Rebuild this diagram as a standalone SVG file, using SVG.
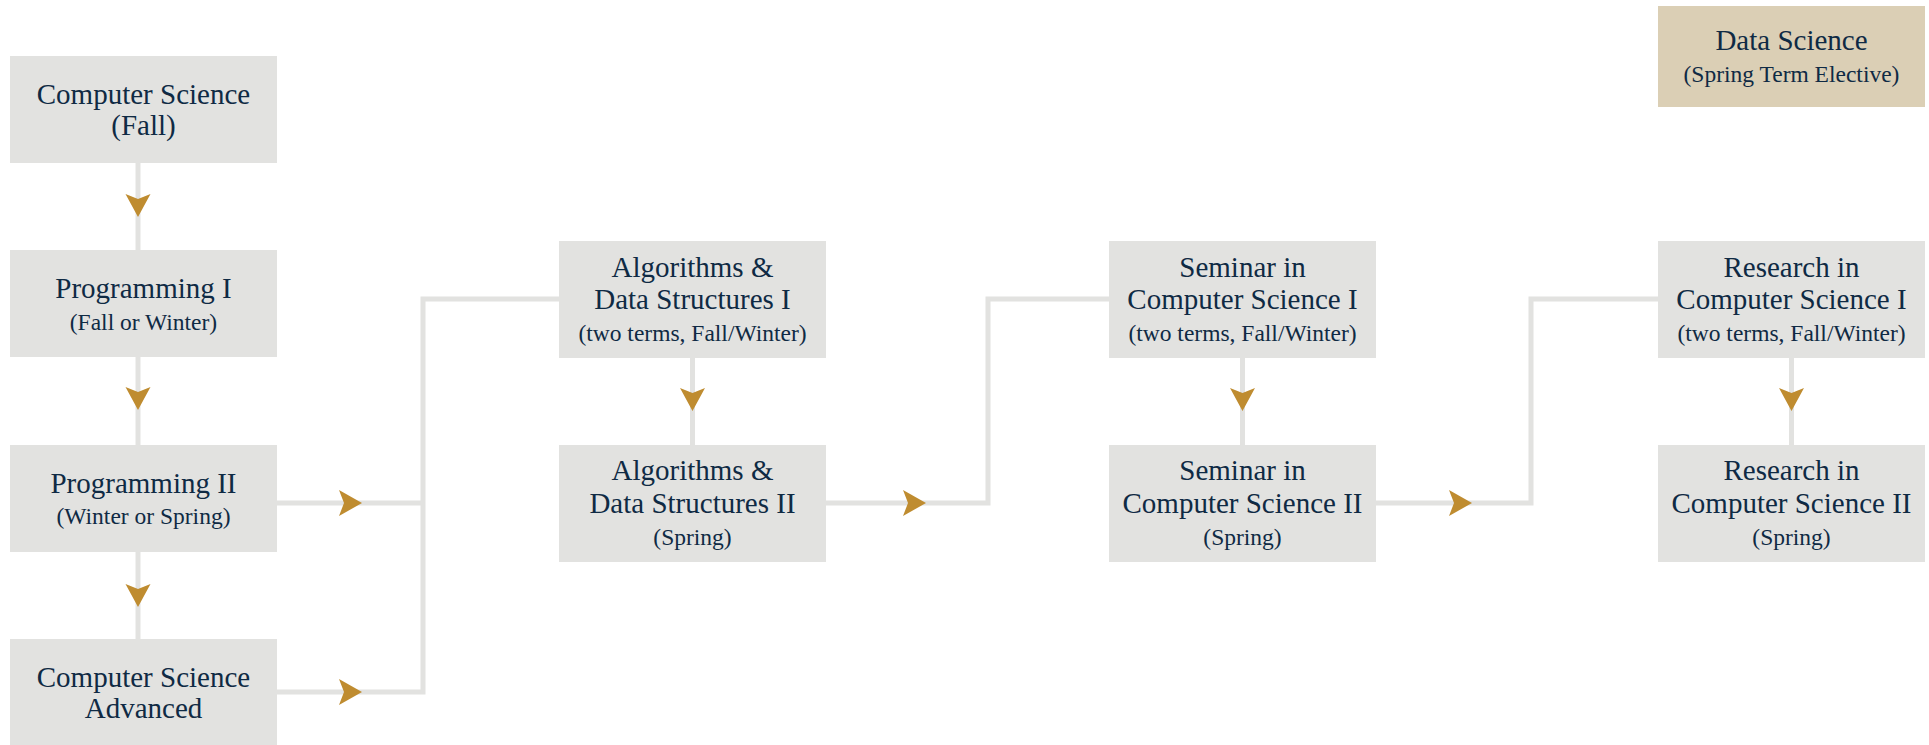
<svg xmlns="http://www.w3.org/2000/svg" width="1929" height="745" viewBox="0 0 1929 745">
<defs>
<style>
.box{fill:#e2e2e0}
.el{fill:#dbcfb5}
.t{font-family:"Liberation Serif","DejaVu Serif",serif;fill:#0f2a44;text-anchor:middle}
.m{font-size:29px}
.s{font-size:23.5px}
.ln{fill:none;stroke:#e2e2e0;stroke-width:5;stroke-linejoin:miter;stroke-linecap:butt}
.ah{fill:#bf8c30}
</style>
<path id="ad" d="M-12.5,0 L0,5 L12.5,0 L0,23 Z"/>
<path id="ar" d="M0,-13 L5,0 L0,13 L23,0 Z"/>
</defs>
<rect width="1929" height="745" fill="#ffffff"/>

<g id="connectors">
<path class="ln" d="M138,163 V250"/>
<path class="ln" d="M138,357 V445"/>
<path class="ln" d="M138,552 V639"/>
<path class="ln" d="M277,503 H423"/>
<path class="ln" d="M277,692 H423 V299 H559"/>
<path class="ln" d="M692.5,358 V445"/>
<path class="ln" d="M826,503 H988 V299 H1109"/>
<path class="ln" d="M1242.5,358 V445"/>
<path class="ln" d="M1376,503 H1531 V299 H1658"/>
<path class="ln" d="M1791.5,358 V445"/>
<use href="#ad" class="ah" x="138" y="194"/>
<use href="#ad" class="ah" x="138" y="387"/>
<use href="#ad" class="ah" x="138" y="584"/>
<use href="#ar" class="ah" x="339" y="503"/>
<use href="#ar" class="ah" x="339" y="692"/>
<use href="#ad" class="ah" x="692.5" y="388"/>
<use href="#ar" class="ah" x="903" y="503"/>
<use href="#ad" class="ah" x="1242.5" y="388"/>
<use href="#ar" class="ah" x="1449" y="503"/>
<use href="#ad" class="ah" x="1791.5" y="388"/>
</g>

<g id="cs-fall">
<rect class="box" x="10" y="56" width="267" height="107"/>
<text class="t m" x="143.5" y="104">Computer Science</text>
<text class="t m" x="143.5" y="135">(Fall)</text>
</g>
<g id="prog1">
<rect class="box" x="10" y="250" width="267" height="107"/>
<text class="t m" x="143.5" y="298">Programming I</text>
<text class="t s" x="143.5" y="330">(Fall or Winter)</text>
</g>
<g id="prog2">
<rect class="box" x="10" y="445" width="267" height="107"/>
<text class="t m" x="143.5" y="493">Programming II</text>
<text class="t s" x="143.5" y="524">(Winter or Spring)</text>
</g>
<g id="cs-adv">
<rect class="box" x="10" y="639" width="267" height="106"/>
<text class="t m" x="143.5" y="687">Computer Science</text>
<text class="t m" x="143.5" y="718">Advanced</text>
</g>
<g id="algo1">
<rect class="box" x="559" y="241" width="267" height="117"/>
<text class="t m" x="692.5" y="277">Algorithms &amp;</text>
<text class="t m" x="692.5" y="309">Data Structures I</text>
<text class="t s" x="692.5" y="341">(two terms, Fall/Winter)</text>
</g>
<g id="algo2">
<rect class="box" x="559" y="445" width="267" height="117"/>
<text class="t m" x="692.5" y="480">Algorithms &amp;</text>
<text class="t m" x="692.5" y="513">Data Structures II</text>
<text class="t s" x="692.5" y="545">(Spring)</text>
</g>
<g id="sem1">
<rect class="box" x="1109" y="241" width="267" height="117"/>
<text class="t m" x="1242.5" y="277">Seminar in</text>
<text class="t m" x="1242.5" y="309">Computer Science I</text>
<text class="t s" x="1242.5" y="341">(two terms, Fall/Winter)</text>
</g>
<g id="sem2">
<rect class="box" x="1109" y="445" width="267" height="117"/>
<text class="t m" x="1242.5" y="480">Seminar in</text>
<text class="t m" x="1242.5" y="513">Computer Science II</text>
<text class="t s" x="1242.5" y="545">(Spring)</text>
</g>
<g id="res1">
<rect class="box" x="1658" y="241" width="267" height="117"/>
<text class="t m" x="1791.5" y="277">Research in</text>
<text class="t m" x="1791.5" y="309">Computer Science I</text>
<text class="t s" x="1791.5" y="341">(two terms, Fall/Winter)</text>
</g>
<g id="res2">
<rect class="box" x="1658" y="445" width="267" height="117"/>
<text class="t m" x="1791.5" y="480">Research in</text>
<text class="t m" x="1791.5" y="513">Computer Science II</text>
<text class="t s" x="1791.5" y="545">(Spring)</text>
</g>
<g id="data-science">
<rect class="el" x="1658" y="6" width="267" height="101"/>
<text class="t m" x="1791.5" y="50">Data Science</text>
<text class="t s" x="1791.5" y="82">(Spring Term Elective)</text>
</g>
</svg>
